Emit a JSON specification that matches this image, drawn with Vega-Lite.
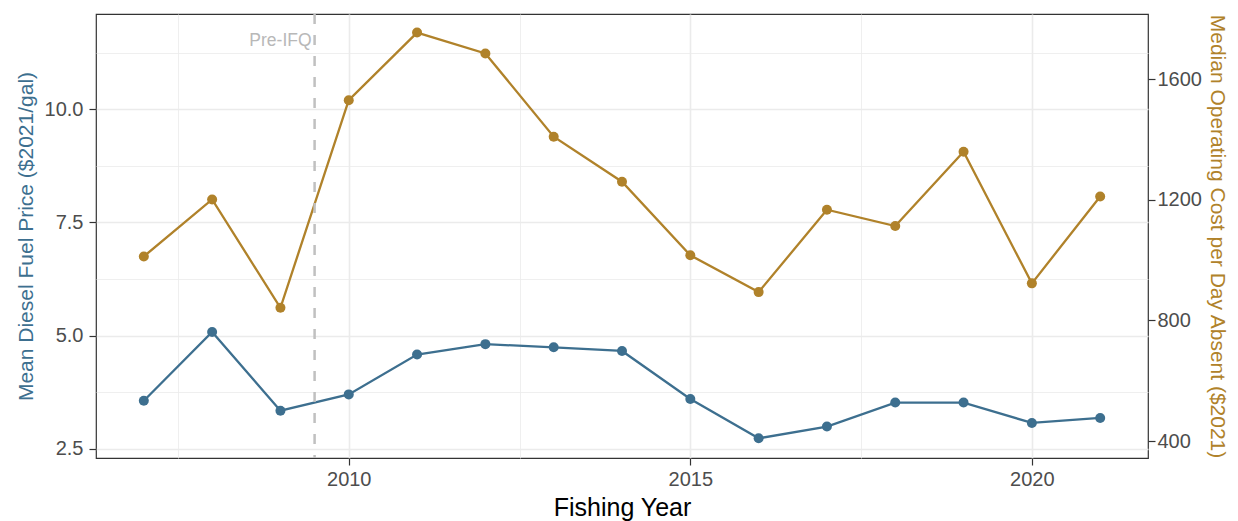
{
  "$schema": "https://vega.github.io/schema/vega-lite/v6.json",
  "width": 1052,
  "height": 444,
  "autosize": {"type": "none"},
  "padding": {"left": 96, "top": 14, "right": 90, "bottom": 63},
  "background": "white",
  "config": {
    "font": "Liberation Sans",
    "view": {"stroke": "#333333", "strokeWidth": 1.2},
    "axis": {
      "labelFont": "Liberation Sans",
      "titleFont": "Liberation Sans",
      "labelColor": "#4d4d4d",
      "labelFontSize": 20,
      "tickColor": "#333333",
      "tickSize": 7,
      "tickWidth": 1.2,
      "domain": false,
      "titleFontWeight": "normal"
    }
  },
  "datasets": {
    "series": [
      {"year": 2007, "fuel": 3.56, "cost": 1012},
      {"year": 2008, "fuel": 5.08, "cost": 1201},
      {"year": 2009, "fuel": 3.34, "cost": 842},
      {"year": 2010, "fuel": 3.70, "cost": 1530},
      {"year": 2011, "fuel": 4.58, "cost": 1754},
      {"year": 2012, "fuel": 4.81, "cost": 1685},
      {"year": 2013, "fuel": 4.74, "cost": 1409},
      {"year": 2014, "fuel": 4.66, "cost": 1260},
      {"year": 2015, "fuel": 3.60, "cost": 1016},
      {"year": 2016, "fuel": 2.73, "cost": 894},
      {"year": 2017, "fuel": 2.99, "cost": 1167},
      {"year": 2018, "fuel": 3.52, "cost": 1113},
      {"year": 2019, "fuel": 3.52, "cost": 1359},
      {"year": 2020, "fuel": 3.07, "cost": 923},
      {"year": 2021, "fuel": 3.18, "cost": 1211}
    ],
    "marker": [{"year": 2009.5, "label": "Pre-IFQ", "fuel": 11.515}]
  },
  "layer": [
    {
      "data": {"name": "series"},
      "layer": [
        {
          "mark": {"type": "line", "color": "#3d6f8f", "strokeWidth": 2.3}
        },
        {
          "mark": {"type": "circle", "color": "#3d6f8f", "size": 100, "opacity": 1}
        }
      ],
      "encoding": {
        "x": {
          "field": "year",
          "type": "quantitative",
          "scale": {"domain": [2006.3, 2021.7], "nice": false, "zero": false},
          "axis": {
            "title": "Fishing Year",
            "titleFontSize": 25,
            "titleColor": "#000000",
            "titlePadding": 6,
            "values": [2007.5, 2010, 2012.5, 2015, 2017.5, 2020],
            "labelExpr": "datum.value % 5 === 0 ? format(datum.value, 'd') : ''",
            "labelPadding": 4,
            "grid": true,
            "gridColor": "#ebebeb",
            "gridWidth": {"condition": {"test": "datum.value % 5 === 0", "value": 1.6}, "value": 0.8},
            "tickOpacity": {"condition": {"test": "datum.value % 5 === 0", "value": 1}, "value": 0}
          }
        },
        "y": {
          "field": "fuel",
          "type": "quantitative",
          "scale": {"domain": [2.295, 12.104], "nice": false, "zero": false},
          "axis": {
            "title": "Mean Diesel Fuel Price ($2021/gal)",
            "titleFontSize": 21,
            "titleColor": "#3d6f8f",
            "titlePadding": 8,
            "values": [2.5, 3.75, 5, 6.25, 7.5, 8.75, 10, 11.25],
            "labelExpr": "datum.value % 2.5 === 0 ? format(datum.value, '.1f') : ''",
            "labelPadding": 6,
            "grid": true,
            "gridColor": "#ebebeb",
            "gridWidth": {"condition": {"test": "datum.value % 2.5 === 0", "value": 1.6}, "value": 0.8},
            "tickOpacity": {"condition": {"test": "datum.value % 2.5 === 0", "value": 1}, "value": 0}
          }
        }
      }
    },
    {
      "data": {"name": "series"},
      "layer": [
        {
          "mark": {"type": "line", "color": "#b0822a", "strokeWidth": 2.3}
        },
        {
          "mark": {"type": "circle", "color": "#b0822a", "size": 100, "opacity": 1}
        }
      ],
      "encoding": {
        "x": {
          "field": "year",
          "type": "quantitative",
          "scale": {"domain": [2006.3, 2021.7], "nice": false, "zero": false}
        },
        "y": {
          "field": "cost",
          "type": "quantitative",
          "scale": {"domain": [344.3, 1815.6], "nice": false, "zero": false},
          "axis": {
            "orient": "right",
            "title": "Median Operating Cost per Day Absent ($2021)",
            "titleFontSize": 21,
            "titleColor": "#b0822a",
            "titlePadding": 5,
            "values": [400, 800, 1200, 1600],
            "format": "d",
            "labelPadding": 2,
            "grid": false
          }
        }
      }
    },
    {
      "data": {"name": "marker"},
      "layer": [
        {
          "mark": {"type": "rule", "color": "#c0c0c0", "strokeWidth": 2.5, "strokeDash": [10, 11]},
          "encoding": {}
        },
        {
          "mark": {"type": "text", "align": "right", "baseline": "middle", "dx": -3, "fontSize": 17.5, "color": "#b8b8b8", "font": "Liberation Sans"},
          "encoding": {
            "y": {"field": "fuel", "type": "quantitative", "scale": {"domain": [2.295, 12.104], "nice": false, "zero": false}, "axis": null},
            "text": {"field": "label"}
          }
        }
      ],
      "encoding": {
        "x": {
          "field": "year",
          "type": "quantitative",
          "scale": {"domain": [2006.3, 2021.7], "nice": false, "zero": false}
        }
      }
    }
  ],
  "resolve": {"scale": {"y": "independent"}}
}
